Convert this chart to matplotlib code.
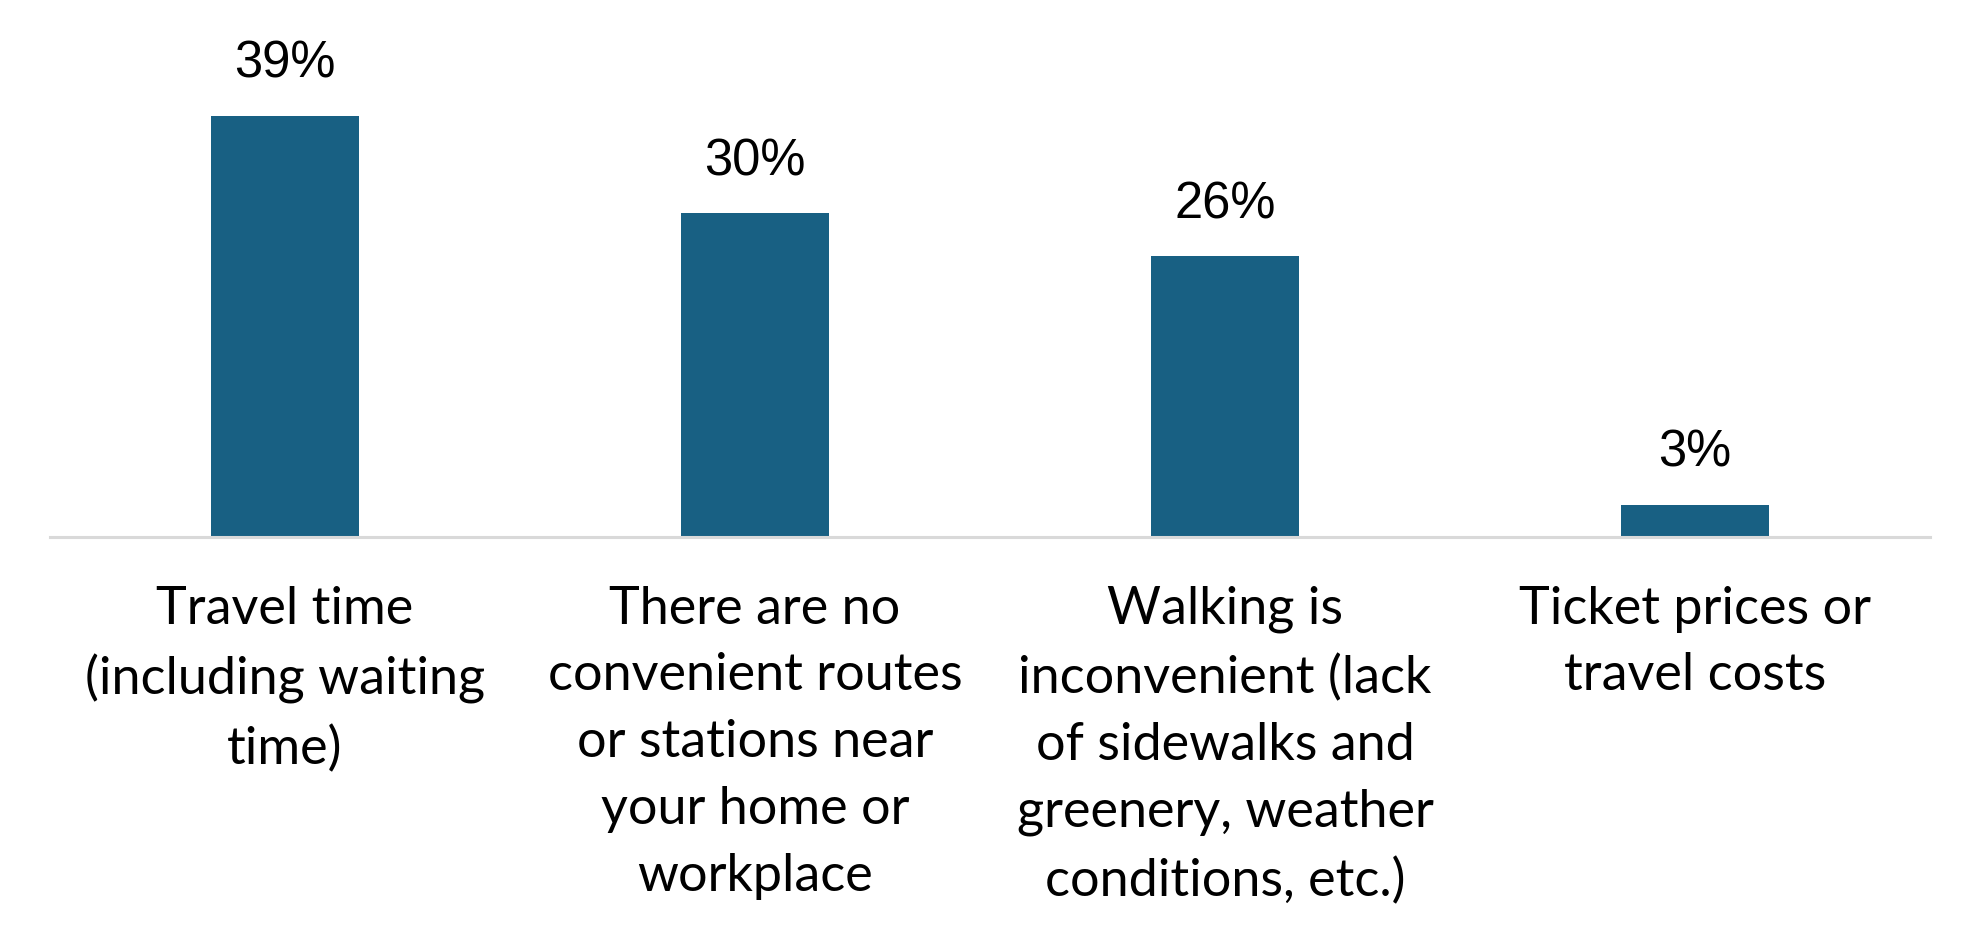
import matplotlib
matplotlib.use("Agg")
import matplotlib.pyplot as plt

categories = [
    "Travel time\n(including waiting\ntime)",
    "There are no\nconvenient routes\nor stations near\nyour home or\nworkplace",
    "Walking is\ninconvenient (lack\nof sidewalks and\ngreenery, weather\nconditions, etc.)",
    "Ticket prices or\ntravel costs",
]
values = [39, 30, 26, 3]
value_labels = ["39%", "30%", "26%", "3%"]

bar_color = "#186083"

fig = plt.figure(figsize=(19.8, 9.38), dpi=100)
ax = fig.add_axes([50 / 1980, 1 - 537 / 938, 1880 / 1980, 486 / 938])

x = list(range(len(categories)))
ax.bar(x, values, width=0.313, color=bar_color, zorder=2)
ax.set_xlim(-0.5, len(categories) - 0.5)
ax.set_ylim(0, 45)

for xi, v, lab in zip(x, values, value_labels):
    ax.annotate(lab, (xi, v), xytext=(0, 37), textcoords="offset points",
                ha="center", va="center", fontsize=36.5, family="Liberation Sans",
                color="black", annotation_clip=False)

for s in ["top", "right", "left"]:
    ax.spines[s].set_visible(False)
ax.spines["bottom"].set_color("#d9d9d9")
ax.spines["bottom"].set_linewidth(2.2)
ax.set_yticks([])
ax.set_xticks(x)
ax.set_xticklabels(categories, fontsize=37.5, family="Lato", linespacing=1.52)
ax.tick_params(axis="x", length=0, pad=35)

fig.savefig("out.png", dpi=100, facecolor="white")
